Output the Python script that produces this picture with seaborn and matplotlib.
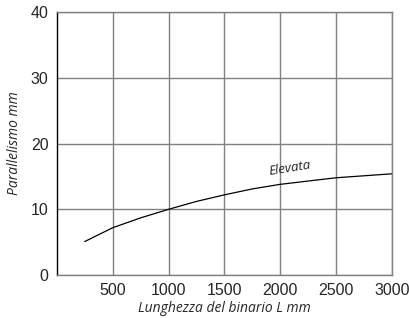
import numpy as np
import pandas as pd
import matplotlib
matplotlib.use("Agg")
import matplotlib.pyplot as plt
import seaborn as sns

# values
lunghezza = [250, 500, 750, 1000, 1250, 1500, 1750, 2000, 2250, 2500, 2750, 3000]
parallelismo = [5.1, 7.2, 8.7, 10.0, 11.2, 12.2, 13.1, 13.8, 14.3, 14.8, 15.1, 15.4]
x_ticks = [500, 1000, 1500, 2000, 2500, 3000]
y_ticks = [0, 10, 20, 30, 40]

df = pd.DataFrame({"L": lunghezza, "P": parallelismo})

sns.set_style("white")
plt.rcParams['font.family'] = ['Liberation Sans', 'DejaVu Sans']

fig = plt.figure(figsize=(4.09, 3.18), dpi=100)
ax = fig.add_axes([0.139, 0.135, 0.819, 0.827])

sns.lineplot(data=df, x="L", y="P", ax=ax, color="black", linewidth=0.9)

ax.set_xlim(0, 3000)
ax.set_ylim(0, 40)
ax.set_xticks(x_ticks)
ax.set_yticks(y_ticks)
ax.tick_params(length=0, labelsize=11.5, pad=6)
ax.grid(True, color="#808080", linewidth=1.0)
for side in ["top", "right", "bottom"]:
    ax.spines[side].set_color("#808080")
    ax.spines[side].set_linewidth(1.0)
ax.spines["left"].set_color("black")
ax.spines["left"].set_linewidth(1.0)

ax.set_xlabel("Lunghezza del binario L mm", fontsize=10, style="italic",
              family="Open Sans", labelpad=2)
ax.set_ylabel("Parallelismo mm", fontsize=10, style="italic",
              family="Open Sans", labelpad=6)

ax.text(2090, 16.2, "Elevata", fontsize=9.5, style="italic", family="Open Sans",
        rotation=9, ha="center", va="center")

fig.savefig("out.png", dpi=100)
